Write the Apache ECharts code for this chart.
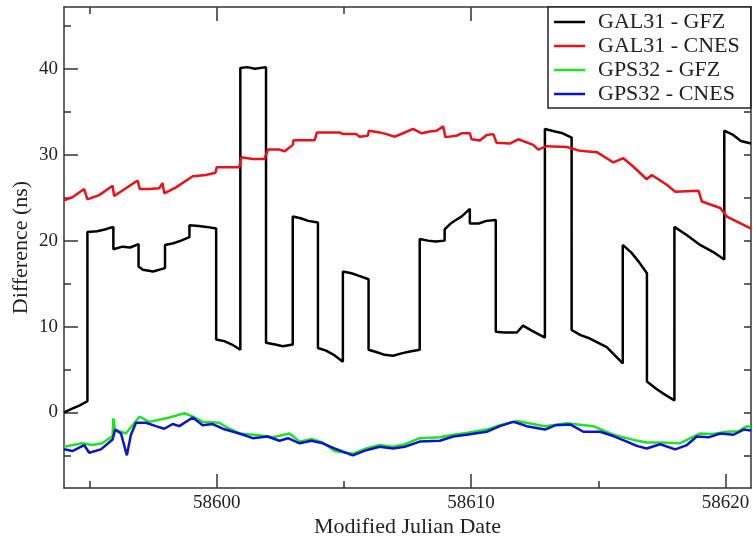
<!DOCTYPE html>
<html>
<head>
<meta charset="utf-8">
<script src="https://cdn.jsdelivr.net/npm/echarts@6/dist/echarts.min.js"></script>
<style>
  html, body { margin: 0; padding: 0; background: #fff; }
  #chart { width: 753px; height: 538px; }
</style>
</head>
<body>
<div id="chart"></div>
<script>
// ---- data (MJD, ns) ----
const seriesNames = ['GAL31 - GFZ', 'GAL31 - CNES', 'GPS32 - GFZ', 'GPS32 - CNES'];
const seriesColors = ['#000000', '#e8121a', '#22e022', '#0a14cc'];

const xTicksMajor = [58600, 58610, 58620];
const xTicksAll = [58595, 58600, 58605, 58610, 58615, 58620];
const yTicksMajor = [0, 10, 20, 30, 40];
const yTicksAll = [-5, 0, 5, 10, 15, 20, 25, 30, 35, 40, 45];

// GAL31 - GFZ (jumps = two points at same date)
const gal31GfzT = [58594.0, 58594.3, 58594.6, 58594.92, 58594.92, 58595.3, 58595.6, 58595.94, 58595.94, 58596.3, 58596.6, 58596.93,
  58596.93, 58597.1, 58597.5, 58597.97, 58597.97, 58598.3, 58598.6, 58598.93, 58598.93, 58599.3, 58599.6, 58599.98,
  58599.98, 58600.3, 58600.6, 58600.93, 58600.93, 58601.2, 58601.5, 58601.94, 58601.94, 58602.3, 58602.6, 58602.99,
  58602.99, 58603.3, 58603.6, 58603.98, 58603.98, 58604.3, 58604.6, 58604.96, 58604.96, 58605.3, 58605.6, 58605.97,
  58605.97, 58606.3, 58606.6, 58606.93, 58607.3, 58607.6, 58607.98, 58607.98, 58608.3, 58608.6, 58608.96,
  58608.96, 58609.2, 58609.4, 58609.62, 58609.95, 58609.95, 58610.3, 58610.6, 58610.97,
  58610.97, 58611.3, 58611.8, 58612.04, 58612.4, 58612.9, 58612.9, 58613.3, 58613.6, 58613.95,
  58613.95, 58614.3, 58614.67, 58615.33, 58615.96, 58615.96, 58616.3, 58616.6, 58616.91,
  58616.91, 58617.3, 58617.6, 58617.99, 58617.99, 58618.5, 58619.0, 58619.5, 58619.95, 58619.95, 58620.3, 58620.6, 58621.0];
const gal31GfzV = [0.0, 0.4, 0.8, 1.3, 21.0, 21.1, 21.3, 21.6, 19.0, 19.3, 19.2, 19.6,
  17.0, 16.6, 16.4, 16.8, 19.5, 19.7, 20.0, 20.4, 21.8, 21.7, 21.6, 21.4,
  8.5, 8.3, 7.9, 7.3, 40.1, 40.2, 40.0, 40.2, 8.1, 7.9, 7.7, 7.9,
  22.8, 22.6, 22.3, 22.1, 7.5, 7.2, 6.7, 5.9, 16.4, 16.2, 15.9, 15.5,
  7.3, 7.0, 6.7, 6.6, 6.9, 7.1, 7.3, 20.2, 20.0, 19.9, 20.0,
  21.3, 22.0, 22.4, 22.8, 23.7, 22.0, 22.0, 22.3, 22.4,
  9.4, 9.3, 9.3, 10.1, 9.5, 8.7, 33.0, 32.7, 32.5, 32.0,
  9.6, 9.0, 8.6, 7.6, 5.7, 19.5, 18.6, 17.5, 16.2,
  3.6, 2.7, 2.1, 1.4, 21.6, 20.6, 19.5, 18.7, 17.8, 32.8, 32.3, 31.6, 31.3];

// GAL31 - CNES
const gal31CnesT = [58594.0, 58594.33, 58594.79, 58594.92, 58595.38, 58595.91, 58595.97, 58596.43, 58596.89, 58596.98,
  58597.35, 58597.74, 58597.87, 58597.94, 58598.4, 58599.06, 58599.58, 58599.95, 58600.0, 58600.89, 58600.96,
  58601.42, 58601.88, 58602.01, 58602.47, 58602.67, 58602.99, 58603.02, 58603.85, 58603.94, 58604.83, 58604.96,
  58605.49, 58605.62, 58605.94, 58605.98, 58606.4, 58606.67, 58607.0, 58607.32, 58607.72, 58608.05, 58608.37,
  58608.64, 58608.9, 58608.99, 58609.42, 58609.62, 58609.95, 58610.02, 58610.34, 58610.61, 58610.87, 58611.0,
  58611.52, 58611.85, 58612.44, 58612.64, 58612.97, 58613.76, 58614.28, 58614.94, 58615.59, 58615.98, 58616.38,
  58616.9, 58617.1, 58617.69, 58618.02, 58618.94, 58619.07, 58619.79, 58620.05, 58621.0];
const gal31CnesV = [24.7, 25.05, 26.0, 24.8, 25.3, 26.4, 25.2, 26.1, 27.0, 26.0,
  26.0, 26.1, 26.7, 25.5, 26.2, 27.5, 27.65, 27.9, 28.55, 28.55, 29.7,
  29.5, 29.5, 30.6, 30.6, 30.4, 31.15, 31.7, 31.7, 32.6, 32.6, 32.4,
  32.4, 32.1, 32.2, 32.8, 32.6, 32.4, 32.1, 32.5, 33.0, 32.5, 32.7,
  32.8, 33.3, 32.05, 32.2, 32.5, 32.5, 31.8, 31.65, 32.3, 32.4, 31.4,
  31.3, 31.8, 31.15, 30.6, 31.0, 30.9, 30.45, 30.3, 29.1, 29.6, 28.6,
  27.15, 27.65, 26.5, 25.7, 25.8, 24.55, 23.8, 22.8, 21.4];

// GPS32 - GFZ
const gps32GfzT = [58594.0, 58594.72, 58595.1, 58595.5, 58595.91, 58595.94, 58596.0, 58596.43, 58596.96, 58597.35,
  58598.14, 58598.73, 58599.06, 58599.45, 58600.1, 58600.5, 58600.89, 58601.68, 58602.2, 58602.86,
  58603.26, 58603.72, 58604.17, 58604.63, 58605.35, 58605.88, 58606.4, 58606.93, 58607.39, 58607.98, 58608.77,
  58609.29, 58609.82, 58610.61, 58611.13, 58611.79, 58612.9, 58613.76, 58614.8, 58615.59, 58616.38, 58616.9,
  58617.43, 58618.2, 58619.0, 58619.5, 58620.05, 58620.5, 58620.84, 58621.0];
const gps32GfzV = [-4.0, -3.6, -3.8, -3.6, -2.75, -0.7, -2.0, -2.45, -0.5, -1.1,
  -0.6, -0.1, -0.5, -1.1, -1.2, -1.9, -2.45, -2.65, -2.9, -2.45,
  -3.4, -3.1, -3.5, -4.5, -4.8, -4.2, -3.8, -4.0, -3.7, -3.0, -2.9,
  -2.6, -2.4, -2.0, -1.5, -1.0, -1.6, -1.25, -1.6, -2.6, -3.2, -3.5,
  -3.5, -3.6, -2.45, -2.5, -2.25, -2.2, -1.6, -1.7];

// GPS32 - CNES
const gps32CnesT = [58594.0, 58594.33, 58594.79, 58594.99, 58595.45, 58595.91, 58596.01, 58596.24, 58596.47, 58596.63,
  58596.83, 58597.22, 58597.61, 58597.94, 58598.27, 58598.53, 58599.06, 58599.45, 58599.84, 58600.24, 58600.89,
  58601.42, 58602.0, 58602.47, 58602.8, 58603.26, 58603.72, 58604.17, 58604.63, 58605.35, 58605.88, 58606.4,
  58606.93, 58607.39, 58607.98, 58608.77, 58609.29, 58609.82, 58610.61, 58611.13, 58611.65, 58611.79, 58612.18,
  58612.9, 58613.3, 58613.89, 58614.41, 58615.07, 58615.59, 58616.12, 58616.51, 58616.9, 58617.43, 58618.02,
  58618.48, 58618.87, 58619.33, 58619.79, 58620.31, 58620.71, 58621.0];
const gps32CnesV = [-4.3, -4.5, -3.8, -4.7, -4.3, -3.15, -2.0, -2.45, -5.0, -2.6,
  -1.2, -1.2, -1.6, -1.9, -1.35, -1.6, -0.6, -1.5, -1.35, -1.9, -2.45,
  -3.0, -2.8, -3.3, -3.0, -3.6, -3.3, -3.6, -4.2, -5.0, -4.4, -4.0,
  -4.2, -4.0, -3.4, -3.3, -2.8, -2.6, -2.25, -1.6, -1.1, -1.2, -1.6,
  -2.0, -1.5, -1.4, -2.25, -2.25, -2.75, -3.4, -3.9, -4.2, -3.7, -4.3,
  -3.8, -2.8, -2.9, -2.45, -2.6, -2.0, -2.1];

const zip = (t, v) => t.map((x, i) => [x, v[i]]);
const allData = [
  zip(gal31GfzT, gal31GfzV),
  zip(gal31CnesT, gal31CnesV),
  zip(gps32GfzT, gps32GfzV),
  zip(gps32CnesT, gps32CnesV)
];

const FONT = '"Liberation Serif", "DejaVu Serif", serif';
const XMIN = 58594, XMAX = 58621, YMIN = -8.8, YMAX = 47.2;
const frame = { show: true, onZero: false, lineStyle: { color: '#333', width: 1.5 } };
const noLine = { show: false, onZero: false };

function xAx(pos, ticks, len, withLabel, withLine) {
  return {
    type: 'value', position: pos, min: XMIN, max: XMAX,
    axisLine: withLine ? frame : noLine,
    splitLine: { show: false },
    axisTick: { show: true, inside: true, length: len, customValues: ticks, lineStyle: { color: '#333', width: 1.5 } },
    axisLabel: withLabel
      ? { show: true, customValues: xTicksMajor, margin: 6, fontFamily: FONT, fontSize: 19, color: '#222', formatter: v => String(v) }
      : { show: false }
  };
}
function yAx(pos, ticks, len, withLabel, withLine) {
  return {
    type: 'value', position: pos, min: YMIN, max: YMAX,
    axisLine: withLine ? frame : noLine,
    splitLine: { show: false },
    axisTick: { show: true, inside: true, length: len, customValues: ticks, lineStyle: { color: '#333', width: 1.5 } },
    axisLabel: withLabel
      ? { show: true, customValues: yTicksMajor, margin: 6, fontFamily: FONT, fontSize: 19, color: '#222' }
      : { show: false }
  };
}

const xMain = xAx('bottom', xTicksAll, 7, true, true);
xMain.name = 'Modified Julian Date';
xMain.nameLocation = 'middle';
xMain.nameGap = 28;
xMain.nameMoveOverlap = false;
xMain.nameTextStyle = { fontFamily: FONT, fontSize: 22, color: '#222' };

const yMain = yAx('left', yTicksAll, 7, true, true);
yMain.name = 'Difference (ns)';
yMain.nameLocation = 'middle';
yMain.nameGap = 32;
yMain.nameMoveOverlap = false;
yMain.nameTextStyle = { fontFamily: FONT, fontSize: 22, color: '#222' };

const chart = echarts.init(document.getElementById('chart'), null, { renderer: 'canvas' });
chart.setOption({
  animation: false,
  backgroundColor: '#fff',
  grid: { left: 64, top: 7, width: 687, height: 481, containLabel: false, outerBoundsMode: 'none' },
  legend: {
    data: seriesNames,
    orient: 'vertical',
    left: 548, top: 7,
    padding: [3, 11, 2, 6],
    itemGap: 0,
    icon: 'rect',
    itemWidth: 31, itemHeight: 2.5,
    backgroundColor: '#fff',
    borderColor: '#222', borderWidth: 1.5, borderRadius: 0,
    textStyle: { fontFamily: FONT, fontSize: 22, color: '#222', lineHeight: 24, padding: [0, 0, 0, 8] }
  },
  xAxis: [
    xMain,
    xAx('bottom', xTicksMajor, 14, false, false),
    xAx('top', xTicksAll, 7, false, true),
    xAx('top', xTicksMajor, 14, false, false)
  ],
  yAxis: [
    yMain,
    yAx('left', yTicksMajor, 14, false, false),
    yAx('right', yTicksAll, 7, false, true)
  ],
  series: seriesNames.map((name, i) => ({
    name: name,
    type: 'line',
    xAxisIndex: 0, yAxisIndex: 0,
    data: allData[i],
    symbol: 'none',
    color: seriesColors[i],
    lineStyle: { color: seriesColors[i], width: 2.5 },
    z: 2 + i
  }))
});
</script>
</body>
</html>
